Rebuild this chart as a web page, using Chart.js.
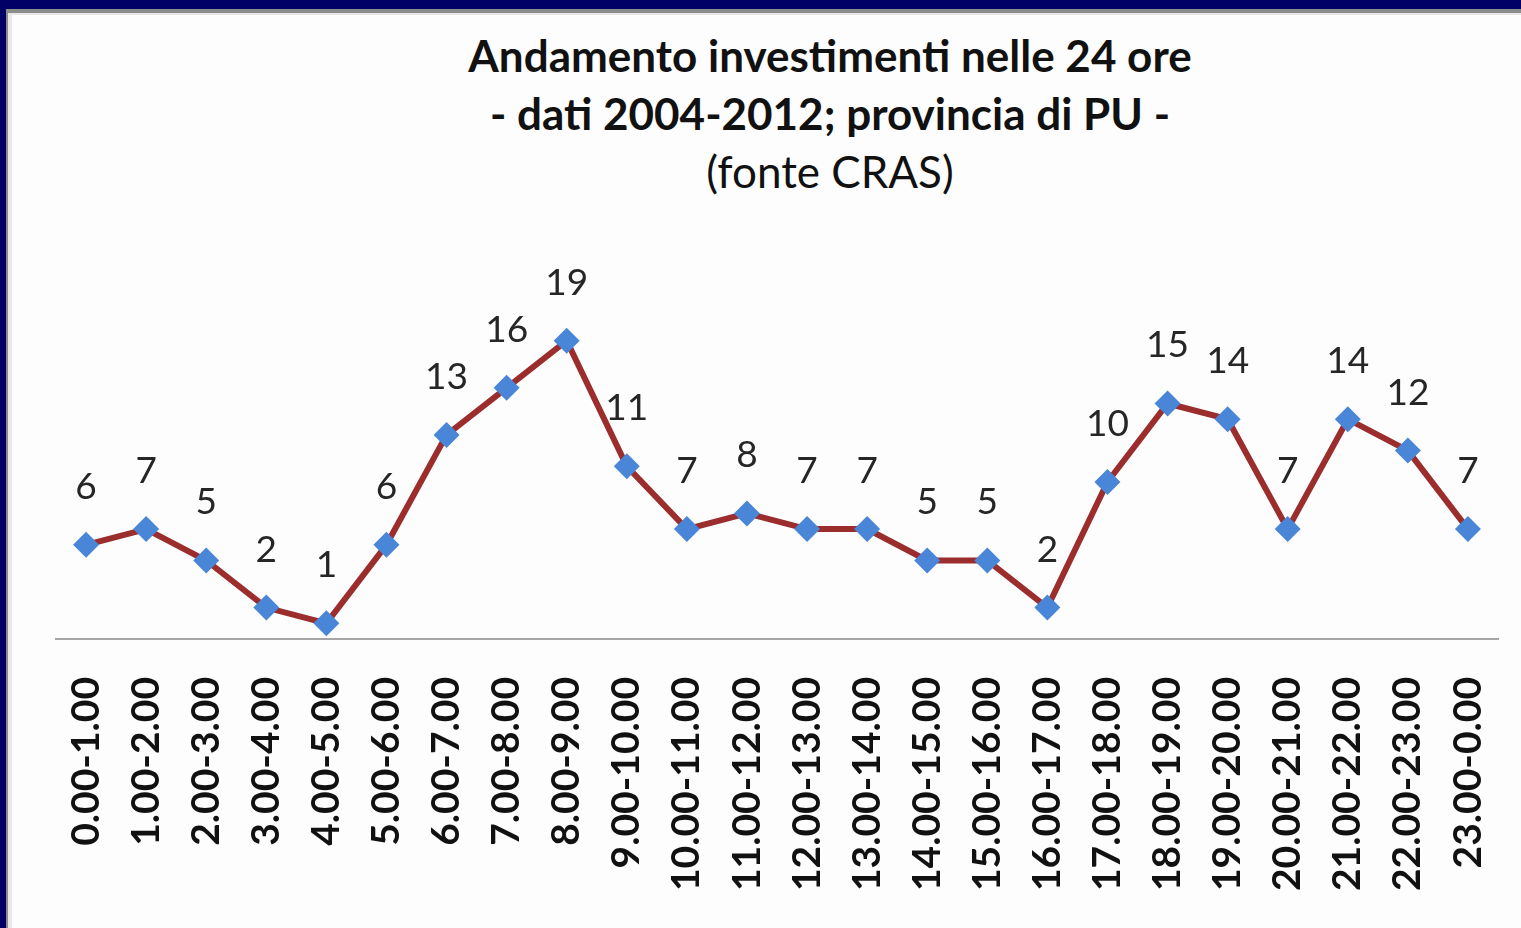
<!DOCTYPE html>
<html>
<head>
<meta charset="utf-8">
<script src="https://cdn.jsdelivr.net/npm/chart.js@4/dist/chart.umd.min.js"></script>
<style>
  body { margin: 0; background: #000066; overflow: hidden; }
  #frame {
    position: absolute; left: 6px; top: 9px; width: 1515px; height: 919px;
    background: #fdfdfd;
    border-top: 4px solid #8c8c8c; border-left: 2px solid #8c8c8c;
    box-shadow: inset 4px 2px 0 #e8e8e8;
  }
  #title {
    position: absolute; left: 330px; top: 26px; width: 1000px;
    text-align: center; font-family: Lato, sans-serif; color: #111;
    font-size: 44px; line-height: 58px;
  }
  #title b { font-weight: bold; }
  canvas { position: absolute; left: 0; top: 0; }
</style>
</head>
<body>
<div id="frame"></div>
<div id="title"><b>Andamento investimenti nelle 24 ore</b><br><b>- dati 2004-2012; provincia di PU -</b><br>(fonte CRAS)</div>
<canvas id="chart" width="1521" height="928"></canvas>
<script>
var hours = ["0.00-1.00","1.00-2.00","2.00-3.00","3.00-4.00","4.00-5.00","5.00-6.00",
  "6.00-7.00","7.00-8.00","8.00-9.00","9.00-10.00","10.00-11.00","11.00-12.00",
  "12.00-13.00","13.00-14.00","14.00-15.00","15.00-16.00","16.00-17.00","17.00-18.00",
  "18.00-19.00","19.00-20.00","20.00-21.00","21.00-22.00","22.00-23.00","23.00-0.00"];
var investimenti = [6,7,5,2,1,6,13,16,19,11,7,8,7,7,5,5,2,10,15,14,7,14,12,7];

// value labels above every point
var valueLabels = {
  id: 'valueLabels',
  afterDatasetsDraw: function(chart) {
    var c = chart.ctx;
    var meta = chart.getDatasetMeta(0);
    c.save();
    c.font = '37px Lato';
    c.fillStyle = '#262626';
    c.textAlign = 'center';
    c.textBaseline = 'middle';
    meta.data.forEach(function(pt, i) {
      c.fillText(investimenti[i], pt.x, pt.y - 58);
    });
    c.restore();
  }
};

var ctx = document.getElementById("chart");
new Chart(ctx, {
  type: 'line',
  data: {
    labels: hours,
    datasets: [{
      data: investimenti,
      borderColor: '#9b2d2d',
      borderWidth: 6,
      tension: 0,
      pointStyle: 'rectRot',
      pointRadius: 13,
      pointBackgroundColor: '#4a86d8',
      pointBorderColor: '#4a86d8',
      pointBorderWidth: 0
    }]
  },
  plugins: [valueLabels],
  options: {
    responsive: false,
    animation: false,
    layout: { padding: { top: 325, left: 56, right: 23, bottom: 0 } },
    plugins: { legend: { display: false }, tooltip: { enabled: false } },
    scales: {
      y: { display: false, min: 0, max: 20 },
      x: {
        offset: true,
        afterFit: function(s) {
          s.height = 289;
          s.paddingLeft = 0;
          s.paddingRight = 0;
        },
        grid: { display: false, drawTicks: false },
        border: { display: true, color: '#a6a6a6', width: 2 },
        ticks: {
          minRotation: 90, maxRotation: 90, padding: 38,
          color: '#111',
          font: { family: 'Lato', size: 39, weight: 'bold' }
        }
      }
    }
  }
});
</script>
</body>
</html>
